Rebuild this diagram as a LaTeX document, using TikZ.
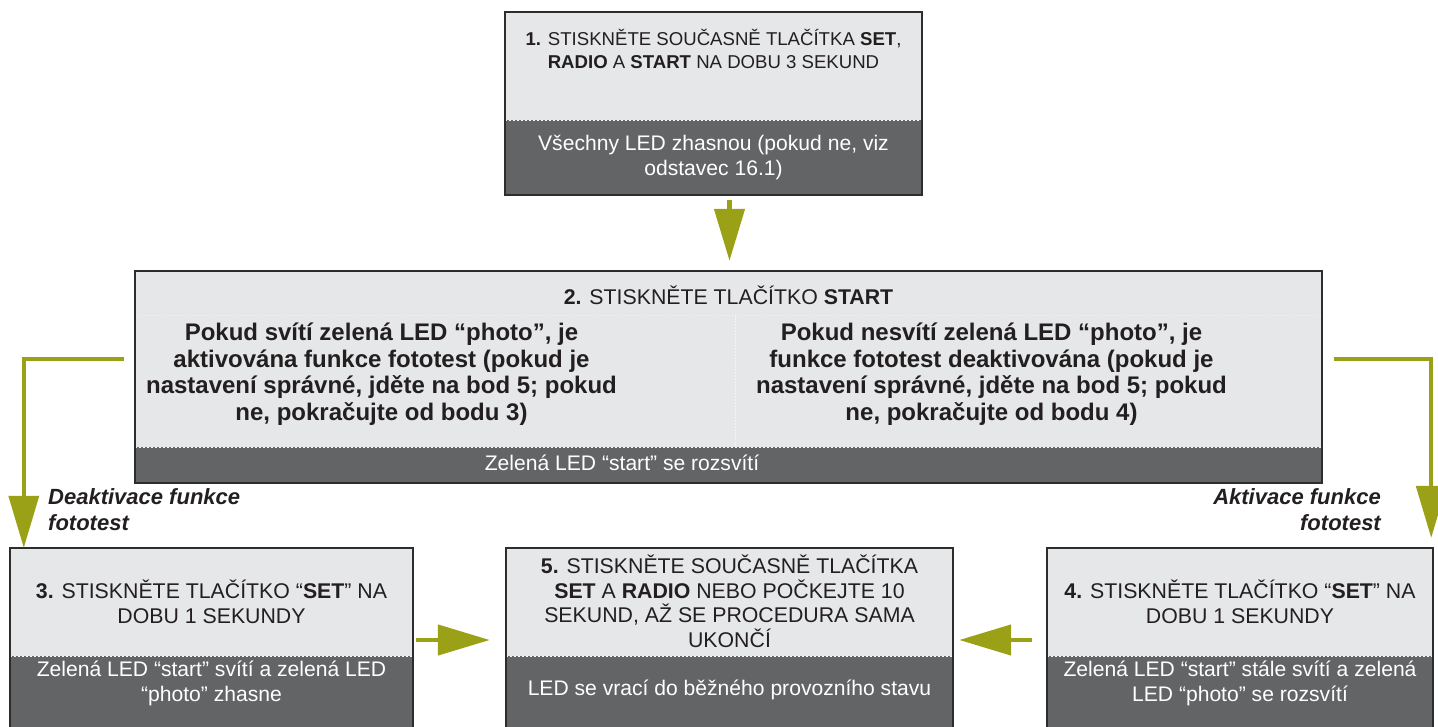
\documentclass[tikz,border=0pt]{standalone}
\usepackage{fontspec}
\setmainfont{Liberation Sans}
\usetikzlibrary{arrows.meta}

\definecolor{panel}{RGB}{230,231,232}
\definecolor{band}{RGB}{99,100,102}
\definecolor{olive}{RGB}{155,161,22}
\definecolor{ink}{RGB}{35,31,32}
\definecolor{framec}{RGB}{45,45,45}

\tikzset{
  lightpart/.style={rectangle, fill=panel, draw=none, inner sep=0pt},
  darkpart/.style={rectangle, fill=band, draw=none, inner sep=0pt},
  boxframe/.style={draw=framec, line width=1.8pt},
  splitline/.style={draw=white!70!panel, line width=0.8pt, dash pattern=on 2pt off 2pt},
  faintline/.style={draw=white!55!panel, line width=0.8pt, dash pattern=on 1.5pt off 1.5pt},
  steptext/.style={text=ink, align=center, font=\fontsize{21.3}{24.5}\selectfont, inner sep=0pt},
  smallsteptext/.style={text=ink, align=center, font=\fontsize{18.6}{23}\selectfont, inner sep=0pt},
  bandtext/.style={text=white, align=center, font=\fontsize{21.1}{25}\selectfont, inner sep=0pt},
  choicetext/.style={text=ink, align=center, font=\bfseries\fontsize{24}{26.5}\selectfont, inner sep=0pt},
  branchlabel/.style={text=ink, font=\bfseries\itshape\fontsize{22}{26}\selectfont, inner sep=0pt},
  flowarrow/.style={draw=olive, line width=4.5pt, -{Triangle[length=52pt, width=30pt]}},
  branchline/.style={draw=olive, line width=3.5pt, -{Triangle[length=52pt, width=30pt]}},
}

\begin{document}
\begin{tikzpicture}[x=1pt, y=-1pt]
\useasboundingbox (0,0) rectangle (1438,726);
\clip (0,0) rectangle (1438,726);

% ---- step 1 ----
\node[lightpart, minimum width=417pt, minimum height=108pt] (s1) at (713.5,66) {};
\node[darkpart, minimum width=417pt, minimum height=75pt] (s1d) at (713.5,157.5) {};
\draw[splitline] (s1.south west) -- (s1.south east);
\draw[boxframe] (s1.north west) rectangle (s1d.south east);
\node[smallsteptext] (t1) at (713.5,48.5) {\textbf{1.} STISKNĚTE SOUČASNĚ TLAČÍTKA \textbf{SET},\\\textbf{RADIO} A \textbf{START} NA DOBU 3 SEKUND};
\node[bandtext] (t1d) at (713.5,157.5) {Všechny LED zhasnou (pokud ne, viz\\odstavec 16.1)};

% ---- step 2 ----
\node[lightpart, minimum width=1187pt, minimum height=176pt] (s2) at (728.5,359) {};
\node[darkpart, minimum width=1187pt, minimum height=36pt] (s2d) at (728.5,465) {};
\draw[faintline] (s2.west |- 0,315) -- (s2.east |- 0,315);
\draw[faintline] (735,315) -- (s2.south -| 735,0);
\draw[splitline] (s2.south west) -- (s2.south east);
\draw[boxframe] (s2.north west) rectangle (s2d.south east);
\node[steptext] (t2) at (728.5,295) {\textbf{2.} STISKNĚTE TLAČÍTKO \textbf{START}};
\node[choicetext] (c2a) at (381.5,374) {Pokud svítí zelená LED “photo”, je\\aktivována funkce fototest (pokud je\\nastavení správné, jděte na bod 5; pokud\\ne, pokračujte od bodu 3)};
\node[choicetext] (c2b) at (991.5,374) {Pokud nesvítí zelená LED “photo”, je\\funkce fototest deaktivována (pokud je\\nastavení správné, jděte na bod 5; pokud\\ne, pokračujte od bodu 4)};
\node[bandtext] (t2d) at (622,463) {Zelená LED “start” se rozsvítí};

% ---- step 3 ----
\node[lightpart, minimum width=403pt, minimum height=108pt] (s3) at (211.5,602) {};
\node[darkpart, minimum width=403pt, minimum height=76pt] (s3d) at (211.5,694) {};
\draw[splitline] (s3.south west) -- (s3.south east);
\draw[boxframe] (s3.north west) rectangle (s3d.south east);
\node[steptext] (t3) at (211.5,602) {\textbf{3.} STISKNĚTE TLAČÍTKO “\textbf{SET}” NA\\DOBU 1 SEKUNDY};
\node[bandtext] (t3d) at (211.5,683) {Zelená LED “start” svítí a zelená LED\\“photo” zhasne};

% ---- step 5 ----
\node[lightpart, minimum width=447pt, minimum height=108pt] (s5) at (729.5,602) {};
\node[darkpart, minimum width=447pt, minimum height=76pt] (s5d) at (729.5,694) {};
\draw[splitline] (s5.south west) -- (s5.south east);
\draw[boxframe] (s5.north west) rectangle (s5d.south east);
\node[steptext] (t5) at (729.5,601.5) {\textbf{5.} STISKNĚTE SOUČASNĚ TLAČÍTKA\\\textbf{SET} A \textbf{RADIO} NEBO POČKEJTE 10\\SEKUND, AŽ SE PROCEDURA SAMA\\UKONČÍ};
\node[bandtext] (t5d) at (729.5,690) {LED se vrací do běžného provozního stavu};

% ---- step 4 ----
\node[lightpart, minimum width=386pt, minimum height=108pt] (s4) at (1240,602) {};
\node[darkpart, minimum width=386pt, minimum height=76pt] (s4d) at (1240,694) {};
\draw[splitline] (s4.south west) -- (s4.south east);
\draw[boxframe] (s4.north west) rectangle (s4d.south east);
\node[steptext] (t4) at (1240,602) {\textbf{4.} STISKNĚTE TLAČÍTKO “\textbf{SET}” NA\\DOBU 1 SEKUNDY};
\node[bandtext] (t4d) at (1240,683) {Zelená LED “start” stále svítí a zelená\\LED “photo” se rozsvítí};

% ---- connectors ----
\coordinate (mid) at (0,640);
\draw[flowarrow, shorten <=5pt, shorten >=10pt] (s1d.south -| s5.north) -- (s2.north -| s5.north);
\draw[flowarrow, shorten <=3pt, shorten >=16pt] (s3.east |- mid) -- (s5.west |- mid);
\draw[flowarrow, shorten <=15pt, shorten >=6pt] (s4.west |- mid) -- (s5.east |- mid);
\draw[branchline] ([xshift=-11pt]s2.west) -| ([xshift=14pt]s3.north west);
\draw[branchline, shorten >=10pt] ([xshift=12pt]s2.east) -| ([xshift=-2pt]s4.north east);

% ---- branch labels ----
\node[branchlabel, anchor=west, align=left] (la) at (48,510) {Deaktivace funkce\\fototest};
\node[branchlabel, anchor=east, align=right] (lb) at (1381,510) {Aktivace funkce\\fototest};
\end{tikzpicture}
\end{document}
